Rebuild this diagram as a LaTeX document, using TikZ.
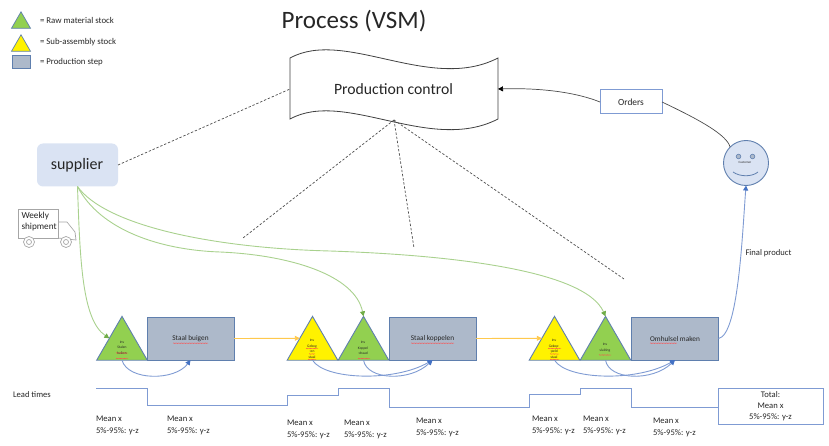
\documentclass[tikz,border=0pt]{standalone}
\usepackage{fontspec}
\setmainfont{Carlito}
\usetikzlibrary{arrows.meta,shapes.geometric,decorations.pathmorphing}
\definecolor{stepfill}{HTML}{ADB9CA}
\definecolor{stepline}{HTML}{5F7FAE}
\definecolor{linkblue}{HTML}{7F9BD3}
\definecolor{tipblue}{HTML}{4472C4}
\definecolor{softblue}{HTML}{DAE3F3}
\definecolor{rawgreen}{HTML}{92D050}
\definecolor{greenline}{HTML}{A9D18E}
\definecolor{greentip}{HTML}{70AD47}
\definecolor{flowyellow}{HTML}{FFC94D}
\definecolor{inkgray}{HTML}{262626}
\tikzset{
  txt/.style={font=\fontsize{#1}{#1}\selectfont,text=inkgray,inner sep=0pt,outer sep=0pt},
  lbl/.style={txt=8.6,align=left,anchor=west,font=\fontsize{8.6}{11.4}\selectfont},
  tri/.style={regular polygon,regular polygon sides=3,minimum size=58.5pt,inner sep=0pt,outer sep=0pt,draw=stepline,line width=.9pt},
  rawtri/.style={tri,fill=rawgreen},
  subtri/.style={tri,fill=yellow},
  legtri/.style={regular polygon,regular polygon sides=3,minimum size=22pt,inner sep=0pt,outer sep=0pt,draw=stepline,line width=.7pt},
  stepbox/.style={rectangle,draw=stepline,fill=stepfill,line width=1pt,minimum width=87pt,minimum height=43pt,inner sep=0pt,outer sep=0pt},
  inv/.style={txt=3.6,align=center,font=\fontsize{3.6}{5.4}\selectfont},
  steptext/.style={txt=7.3},
  bluebox/.style={rectangle,draw=linkblue,fill=white,line width=1pt,inner sep=0pt,outer sep=0pt},
  greenarrow/.style={draw=greenline,line width=.9pt,-{Triangle[length=5pt,width=5pt,color=greentip]}},
  yellowarrow/.style={draw=flowyellow,line width=.9pt,-{Triangle[length=5pt,width=5pt]}},
  bluearrow/.style={draw=linkblue,line width=.9pt,-{Triangle[length=5pt,width=5pt,color=tipblue]}},
  dashlink/.style={draw=black!70,line width=.7pt,dash pattern=on 2.4pt off 1.8pt},
  squig/.style={draw=red!70,line width=.3pt,decorate,decoration={snake,amplitude=.35pt,segment length=1.6pt}},
  truckline/.style={draw=black!35,line width=.7pt,fill=white},
}
\begin{document}
\begin{tikzpicture}[x=1pt,y=-1pt]
\useasboundingbox (0,0) rectangle (829,446);
% legend
\node[legtri,fill=rawgreen] (lg1) at (21,22.8) {};
\node[legtri,fill=yellow] (lg2) at (21,45.8) {};
\node[rectangle,draw=stepline,fill=stepfill,line width=.8pt,minimum width=18pt,minimum height=13pt,inner sep=0pt,outer sep=0pt] (lg3) at (21,62) {};
\node[txt=8.8,anchor=west] (lt1) at (40,20) {= Raw material stock};
\node[txt=8.8,anchor=west] (lt2) at (40,42) {= Sub-assembly stock};
\node[txt=8.8,anchor=west] (lt3) at (40,62) {= Production step};
% title
\node[txt=25] (title) at (354,21.5) {Process (VSM)};
% production control
\draw[draw=black!75,fill=white,line width=.8pt] (290,58) .. controls (345,28) and (430,93) .. (498,58) -- (498,119) .. controls (430,154) and (345,89) .. (290,119) -- cycle;
\node[txt=15.7] (pc) at (393.5,89) {Production control};
\coordinate (pcw) at (290,89);
\coordinate (pce) at (498,89);
\coordinate (pcs) at (394,120);
% supplier
\node[rectangle,rounded corners=6pt,fill=softblue,minimum width=81pt,minimum height=43pt,inner sep=0pt,outer sep=0pt] (sup) at (77.5,165) {};
\node[txt=16] (suptext) at (77,165.5) {supplier};
% truck
\draw[truckline] (58,222) -- (67,222) -- (75,232) -- (76,240) -- (58,238) -- cycle;
\draw[truckline] (18,209) -- (58,209) -- (58,238) -- (18,238) -- cycle;
\node[circle,truckline,minimum size=11pt,inner sep=0pt] (w1) at (29,242) {};
\node[circle,truckline,minimum size=5pt,inner sep=0pt] (w1b) at (29,242) {};
\node[circle,truckline,minimum size=11pt,inner sep=0pt] (w2) at (66,242) {};
\node[circle,truckline,minimum size=5pt,inner sep=0pt] (w2b) at (66,242) {};
\node[txt=9.2,align=left,anchor=north west,font=\fontsize{9.2}{11.6}\selectfont] (tr) at (21.5,212) {Weekly\\shipment};
% stocks and steps
\node[rawtri] (t1) at (122,345.6) {};
\node[stepbox] (r1) at (190.5,338.5) {};
\node[subtri] (t2) at (312.5,345.6) {};
\node[rawtri] (t3) at (363.5,345.6) {};
\node[stepbox] (r2) at (432.5,338.5) {};
\node[subtri] (t4) at (554.5,345.6) {};
\node[rawtri] (t5) at (605.5,345.6) {};
\node[stepbox] (r3) at (675,338.5) {};
\node[steptext] (s1) at (190.5,339) {Staal buigen};
\node[steptext] (s2) at (432.5,339) {Staal koppelen};
\node[steptext] (s3) at (675,339) {Omhulsel maken};
\draw[squig] (173,343.2) -- (208,343.2);
\draw[squig] (411,343.2) -- (454,343.2);
\draw[squig] (650,343.2) -- (677,343.2);
\node[inv,anchor=north] (i1) at (122,341) {Inv\\Stalen\\balken};
\node[inv,anchor=north] (i2) at (312,339.5) {Inv\\Gebog\\-en\\staal};
\node[inv,anchor=north] (i3) at (363,341.5) {Inv\\Koppel\\-draad};
\node[inv,anchor=north] (i4) at (554,339.5) {Inv\\Gekop-\\-peld\\staal};
\node[inv,anchor=north] (i5) at (605,343.5) {Inv\\sluiting};
\draw[squig] (116,353) -- (128,353);
\draw[squig] (116,358.5) -- (128,358.5);
\draw[squig] (306,348.5) -- (318,348.5);
\draw[squig] (309,354) -- (315,354);
\draw[squig] (308,359.5) -- (316,359.5);
\draw[squig] (358,358.5) -- (370,358.5);
\draw[squig] (548,348.5) -- (561,348.5);
\draw[squig] (550,354) -- (559,354);
\draw[squig] (550,359.5) -- (559,359.5);
\draw[squig] (599,355) -- (611,355);
% flow arrows
\draw[yellowarrow] (r1.east) -- (t2.side 1);
\draw[yellowarrow] (r2.east) -- (t4.side 1);
\draw[bluearrow] (t1.south) .. controls (128,381) and (175,381) .. (r1.south);
\draw[bluearrow] (t2.south) .. controls (325,380) and (395,382) .. (r2.south);
\draw[bluearrow] (t3.south) .. controls (367,380) and (410,382) .. (r2.south);
\draw[bluearrow] (t4.south) .. controls (567,380) and (637,382) .. (r3.south);
\draw[bluearrow] (t5.south) .. controls (609,380) and (652,382) .. (r3.south);
% green supply
\draw[greenarrow] (sup.south) .. controls (80,260) and (82,320) .. (t1.side 1);
\draw[greenarrow] (sup.south) .. controls (100,230) and (160,250) .. (220,252) .. controls (290,255) and (355,275) .. (t3.north);
\draw[greenarrow] (sup.south) .. controls (105,225) and (210,248) .. (330,251) .. controls (450,255) and (585,270) .. (t5.north);
% dashed
\coordinate (d1) at (243,238);
\coordinate (d2) at (414,248);
\coordinate (d3) at (624,279);
\draw[dashlink] (sup.east) -- (pcw);
\draw[dashlink] (pcs) -- (d1);
\draw[dashlink] (pcs) -- (d2);
\draw[dashlink] (pcs) -- (d3);
% customer
\node[circle,draw=stepline,fill=softblue,line width=.9pt,minimum size=45pt,inner sep=0pt,outer sep=0pt] (cust) at (746,163) {};
\node[circle,draw=stepline,fill=stepfill,line width=.6pt,minimum size=4.6pt,inner sep=0pt] (e1) at (738.5,156.5) {};
\node[circle,draw=stepline,fill=stepfill,line width=.6pt,minimum size=4.6pt,inner sep=0pt] (e2) at (752.5,156.5) {};
\node[txt=3.2] (custtext) at (745,162.5) {Customer};
\draw[draw=stepline,line width=.8pt] (733,172) .. controls (740,177) and (752,177) .. (758,172);
% orders
\node[bluebox,minimum width=62pt,minimum height=24pt] (ord) at (631,102) {};
\node[txt=9.4] (ordtext) at (631,102) {Orders};
\draw[draw=black!70,line width=.7pt] (cust.north west) .. controls (727,135) and (700,120) .. (ord.east);
\draw[draw=black!70,line width=.7pt,-{Triangle[length=5pt,width=5pt,color=black]}] (ord.west) .. controls (570,90) and (530,88) .. (pce);
% final product
\draw[bluearrow] (r3.east) .. controls (738,335) and (742,240) .. (cust.south);
\node[txt=8.6,anchor=west] (fp) at (745.5,253) {Final product};
% lead time
\node[bluebox,minimum width=105pt,minimum height=36pt] (tot) at (770.5,406) {};
\node[txt=8.6,align=center,font=\fontsize{8.6}{11.2}\selectfont] (tottext) at (770.5,406) {Total:\\Mean x\\5\%-95\%: y-z};
\coordinate (ls) at (96,388);
\draw[draw=linkblue,line width=1pt] (ls) -| (147,405) -| (287,395.5) -| (338,388) -| (389,407) -| (529,394) -| (580,388) -| (631,407) -- (tot.west |- 0,407);
\node[lbl] (lead) at (13,395) {Lead times};
\node[lbl] (m1) at (96,425.5) {Mean x\\5\%-95\%: y-z};
\node[lbl] (m2) at (167,425.5) {Mean x\\5\%-95\%: y-z};
\node[lbl] (m3) at (287,429.5) {Mean x\\5\%-95\%: y-z};
\node[lbl] (m4) at (344,429.5) {Mean x\\5\%-95\%: y-z};
\node[lbl] (m5) at (416,427.5) {Mean x\\5\%-95\%: y-z};
\node[lbl] (m6) at (532,425.5) {Mean x\\5\%-95\%: y-z};
\node[lbl] (m7) at (583,425.5) {Mean x\\5\%-95\%: y-z};
\node[lbl] (m8) at (653,427.5) {Mean x\\5\%-95\%: y-z};
\end{tikzpicture}
\end{document}
